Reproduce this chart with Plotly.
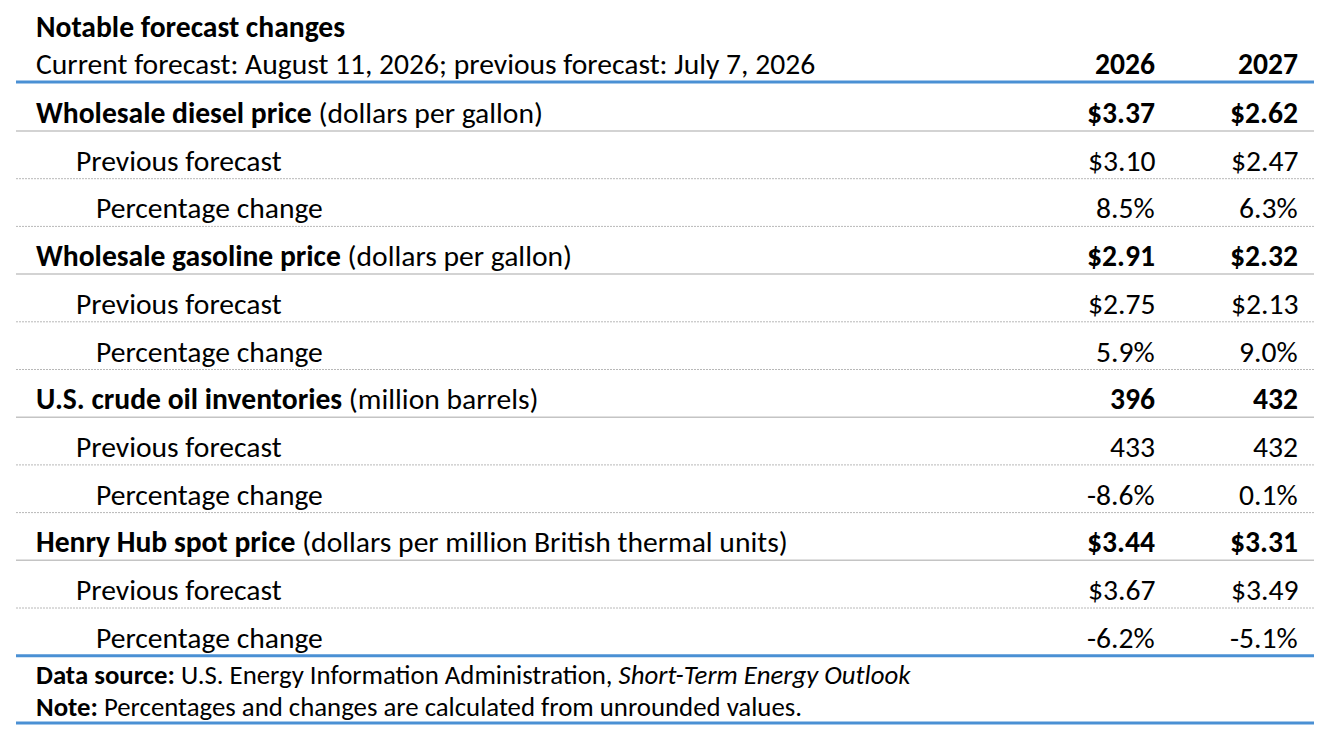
import plotly.graph_objects as go

title = "Notable forecast changes"
subtitle = "Current forecast: August 11, 2026; previous forecast: July 7, 2026"
years = ["2026", "2027"]

series_names = ["Wholesale diesel price", "Wholesale gasoline price",
                "U.S. crude oil inventories", "Henry Hub spot price"]
series_units = ["(dollars per gallon)", "(dollars per gallon)",
                "(million barrels)", "(dollars per million British thermal units)"]
current_2026 = ["$3.37", "$2.91", "396", "$3.44"]
current_2027 = ["$2.62", "$2.32", "432", "$3.31"]
previous_2026 = ["$3.10", "$2.75", "433", "$3.67"]
previous_2027 = ["$2.47", "$2.13", "432", "$3.49"]
pct_2026 = ["8.5%", "5.9%", "-8.6%", "-6.2%"]
pct_2027 = ["6.3%", "9.0%", "0.1%", "-5.1%"]

source_text = "<b>Data source:</b> U.S. Energy Information Administration, <i>Short-Term Energy Outlook</i>"
note_text = "<b>Note:</b> Percentages and changes are calculated from unrounded values."

FONT = "Carlito, Calibri, Lato, sans-serif"
BLUE = "#4a90d4"
W, H = 1338, 752
OFF = 8  # page body margin
LEFT, RIGHT = 16, 1314
X_TEXT = 34
X_C1, X_C2 = 1157, 1300
ROW0 = 113
ROW_H = 47.7
FS = 29.6

fig = go.Figure()
ann = []
shapes = []

def text(x, y, s, anchor="left", size=FS):
    ann.append(dict(x=x, y=y, xref="x", yref="y", text=s, showarrow=False,
                    xanchor=anchor, yanchor="middle",
                    font=dict(family=FONT, size=size, color="#000")))

def hline(y, color, width, dash="solid"):
    shapes.append(dict(type="line", xref="x", yref="y", x0=LEFT, x1=RIGHT, y0=y, y1=y,
                       line=dict(color=color, width=width, dash=dash)))

text(X_TEXT, 27, "<b>" + title + "</b>")
text(X_TEXT, 64, subtitle)
text(X_C1, 64, "<b>" + years[0] + "</b>", "right")
text(X_C2, 64, "<b>" + years[1] + "</b>", "right")
hline(82, BLUE, 3)

for i in range(len(series_names)):
    y = ROW0 + 3 * i * ROW_H
    text(X_TEXT, y, "<b>" + series_names[i] + "</b> " + series_units[i])
    text(X_C1, y, "<b>" + current_2026[i] + "</b>", "right")
    text(X_C2, y, "<b>" + current_2027[i] + "</b>", "right")
    hline(y + 18, "#c4c4c4", 1.5)
    y2 = y + ROW_H
    text(X_TEXT + 40, y2, "Previous forecast")
    text(X_C1, y2, previous_2026[i], "right")
    text(X_C2, y2, previous_2027[i], "right")
    hline(y2 + 18, "#b8b8b8", 1, "2px,1px")
    y3 = y + 2 * ROW_H
    text(X_TEXT + 60, y3, "Percentage change")
    text(X_C1, y3, pct_2026[i], "right")
    text(X_C2, y3, pct_2027[i], "right")
    if i < len(series_names) - 1:
        hline(y3 + 18, "#b8b8b8", 1, "2px,1px")
    else:
        hline(y3 + 18, BLUE, 3)

text(X_TEXT, 674, source_text, size=26.8)
text(X_TEXT, 706, note_text, size=26.8)
hline(723, BLUE, 3)

fig.update_layout(
    width=W, height=H, margin=dict(l=0, r=0, t=0, b=0),
    paper_bgcolor="white", plot_bgcolor="white",
    xaxis=dict(range=[OFF, W + OFF], visible=False, fixedrange=True),
    yaxis=dict(range=[H + OFF, OFF], visible=False, fixedrange=True),
    annotations=ann, shapes=shapes, showlegend=False,
)
fig.write_html("out.html")
